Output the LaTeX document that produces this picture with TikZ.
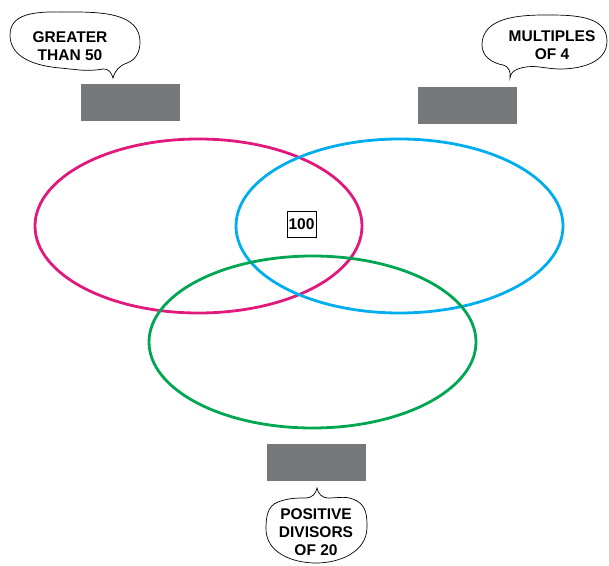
\documentclass[tikz,border=0pt]{standalone}
\usepackage{fontspec}
\setmainfont{Liberation Sans}
\definecolor{vmagenta}{RGB}{225,25,125}
\definecolor{vcyan}{RGB}{0,174,239}
\definecolor{vgreen}{RGB}{0,166,81}
\definecolor{tagbox}{RGB}{119,120,123}
\begin{document}
\begin{tikzpicture}[x=1pt,y=1pt,
  setring/.style={line width=2.8pt},
  tag/.style={fill=tagbox,draw=none,minimum width=99pt,minimum height=37pt,inner sep=0pt},
  bubble/.style={draw=black,line width=0.7pt,fill=white},
  caption/.style={font=\bfseries\fontsize{15.5}{18}\selectfont,align=center,inner sep=0pt}]
\useasboundingbox (0,0) rectangle (609,565);

% three overlapping sets
\draw[setring,vmagenta] (198.5,339) ellipse [x radius=163.5, y radius=87];
\draw[setring,vcyan] (399.5,339) ellipse [x radius=163.5, y radius=87];
\draw[setring,vgreen] (312.5,223) ellipse [x radius=163.5, y radius=86];

% element in the shared region
\node[draw=black,line width=0.6pt,minimum width=29pt,minimum height=26pt,inner sep=0pt,
  font=\bfseries\fontsize{15.5}{16}\selectfont] (hundred) at (301.5,341) {100};

% grey label boxes
\node[tag] (tagA) at (130.5,462.5) {};
\node[tag] (tagB) at (467.5,459.5) {};
\node[tag] (tagC) at (316,102.5) {};

% speech bubble: greater than 50
\draw[bubble] (113,487) to[out=75,in=200] (127,502) to[out=20,in=-90] (140,523)
  to[out=90,in=0] (72,553) to[out=180,in=90] (10,530) to[out=-90,in=175] (60,497)
  to[out=-5,in=190] (103,496) to[out=10,in=105] (113,487) -- cycle;
\node[caption] (capA) at (70,519) {GREATER\\THAN 50};

% speech bubble: multiples of 4
\draw[bubble] (510,487) to[out=80,in=-10] (503,500) to[out=170,in=-90] (482,520)
  to[out=90,in=180] (545,550) to[out=0,in=90] (607,524) to[out=-90,in=0] (560,496)
  to[out=180,in=20] (518,496) to[out=200,in=85] (510,487) -- cycle;
\node[caption] (capB) at (552,520) {MULTIPLES\\OF 4};

% speech bubble: positive divisors of 20
\draw[bubble] (317,77) to[out=-100,in=0] (306,67) to[out=180,in=20] (278,63)
  to[out=200,in=90] (266,36) to[out=-90,in=180] (316,2) to[out=0,in=-90] (367,38)
  to[out=90,in=-30] (357,64) to[out=150,in=0] (328,67) to[out=180,in=-80] (317,77) -- cycle;
\node[caption] (capC) at (316,33) {POSITIVE\\DIVISORS\\OF 20};
\end{tikzpicture}
\end{document}
